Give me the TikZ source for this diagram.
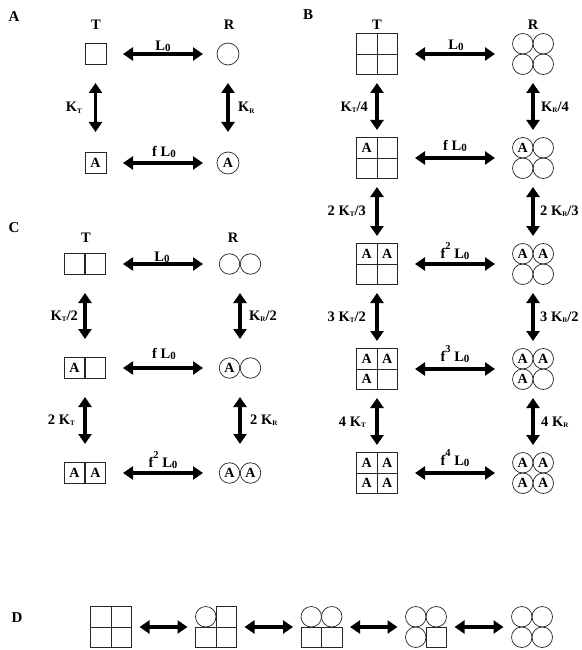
\documentclass[tikz,border=0pt]{standalone}
\usepackage{fontspec}
\setmainfont{Liberation Serif}
\usetikzlibrary{arrows.meta}
\newcommand\lsub[1]{\raisebox{-1pt}{\fontsize{11}{11}\selectfont #1}}
\newcommand\ksub[1]{\raisebox{-1.5pt}{\fontsize{7}{7}\selectfont #1}}
\newcommand\fsup[1]{\raisebox{9pt}{\fontsize{10.5}{10.5}\selectfont #1}}
\newcommand\mkcell[4]{%
  \if#4s\node[cellsq] (#1) at (#2,#3) {};\fi
  \if#4S\node[cellsq] (#1) at (#2,#3) {A};\fi
  \if#4c\node[cellci] (#1) at (#2,#3) {};\fi
  \if#4C\node[cellci] (#1) at (#2,#3) {A};\fi}
\newcommand\fourgrp[7]{%
  \node[grp] (#1) at (#2,#3) {};
  \mkcell{#1a}{#2-10.25}{#3-10.25}{#4}
  \mkcell{#1b}{#2+10.25}{#3-10.25}{#5}
  \mkcell{#1c}{#2-10.25}{#3+10.25}{#6}
  \mkcell{#1d}{#2+10.25}{#3+10.25}{#7}}
\newcommand\twogrp[5]{%
  \node[grp, minimum height=21pt] (#1) at (#2,#3) {};
  \mkcell{#1a}{#2-10.5}{#3}{#4}
  \mkcell{#1b}{#2+10.5}{#3}{#5}}
\tikzset{
  lab/.style={font=\fontsize{14.5}{16}\selectfont\bfseries, inner sep=0pt},
  panel/.style={font=\fontsize{15}{17}\selectfont\bfseries, inner sep=0pt},
  cellsq/.style={draw=black!85, line width=0.7pt, minimum size=20.5pt, inner sep=0pt,
    font=\fontsize{14}{15}\selectfont\bfseries},
  cellci/.style={circle, draw=black!85, line width=0.7pt, minimum size=20.5pt, inner sep=0pt,
    font=\fontsize{14}{15}\selectfont\bfseries},
  grp/.style={minimum size=41pt, inner sep=0pt},
  dbl/.style={line width=3.1pt, {Triangle[length=10pt,width=13pt]}-{Triangle[length=10pt,width=13pt]}},
}
\begin{document}
\begin{tikzpicture}[x=1pt,y=-1pt]
\useasboundingbox (0,0) rectangle (581,650);
% ---------------- Panel A
\node[panel] (pA) at (14,17) {A};
\node[lab] (aTl) at (96,25) {T};
\node[lab] (aRl) at (229,25) {R};
\node[cellsq, minimum size=21pt] (aT0) at (95.5,54) {};
\node[cellci, minimum size=22pt] (aR0) at (228,54) {};
\node[cellsq, minimum size=21pt] (aT1) at (95.5,163) {A};
\node[cellci, minimum size=22pt] (aR1) at (228,163) {A};
\draw[dbl, shorten <=27.5pt, shorten >=25pt] (aT0.center) -- (aR0.center);
\draw[dbl, shorten <=27.5pt, shorten >=25pt] (aT1.center) -- (aR1.center);
\draw[dbl, shorten <=29pt, shorten >=31pt] (aT0.center) -- (aT1.center);
\draw[dbl, shorten <=29pt, shorten >=31pt] (aR0.center) -- (aR1.center);
\node[lab, anchor=base] (aL0) at (163,51) {L\lsub{0}};
\node[lab, anchor=base] (aL1) at (164,157) {f L\lsub{0}};
\node[lab, anchor=east] (aKT) at (82,108) {K\ksub{T}};
\node[lab, anchor=west] (aKR) at (238,108) {K\ksub{R}};
% ---------------- Panel B
\node[panel] (pB) at (308,15) {B};
\node[lab] (bTl) at (377,25) {T};
\node[lab] (bRl) at (533,25) {R};
\fourgrp{bT0}{377}{54}{s}{s}{s}{s}
\fourgrp{bR0}{533}{54}{c}{c}{c}{c}
\fourgrp{bT1}{377}{158}{S}{s}{s}{s}
\fourgrp{bR1}{533}{158}{C}{c}{c}{c}
\fourgrp{bT2}{377}{264}{S}{S}{s}{s}
\fourgrp{bR2}{533}{264}{C}{C}{c}{c}
\fourgrp{bT3}{377}{369}{S}{S}{S}{s}
\fourgrp{bR3}{533}{369}{C}{C}{C}{c}
\fourgrp{bT4}{377}{473}{S}{S}{S}{S}
\fourgrp{bR4}{533}{473}{C}{C}{C}{C}
\foreach \i in {0,...,4}{
  \draw[dbl, shorten <=38pt, shorten >=38pt] (bT\i.center) -- (bR\i.center);
}
\foreach \i/\j in {0/1,1/2,2/3,3/4}{
  \draw[dbl, shorten <=29pt, shorten >=28pt] (bT\i.center) -- (bT\j.center);
  \draw[dbl, shorten <=29pt, shorten >=28pt] (bR\i.center) -- (bR\j.center);
}
\node[lab, anchor=base] (bL0) at (456,50) {L\lsub{0}};
\node[lab, anchor=base] (bL1) at (455,150) {f L\lsub{0}};
\node[lab, anchor=base] (bL2) at (455,258) {f\fsup{2} L\lsub{0}};
\node[lab, anchor=base] (bL3) at (455,361) {f\fsup{3} L\lsub{0}};
\node[lab, anchor=base] (bL4) at (455,465) {f\fsup{4} L\lsub{0}};
\node[lab, anchor=east] (bKT1) at (368,107) {K\ksub{T}/4};
\node[lab, anchor=east] (bKT2) at (366,211) {2 K\ksub{T}/3};
\node[lab, anchor=east] (bKT3) at (366,317) {3 K\ksub{T}/2};
\node[lab, anchor=east] (bKT4) at (366,422) {4 K\ksub{T}};
\node[lab, anchor=west] (bKR1) at (541,107) {K\ksub{R}/4};
\node[lab, anchor=west] (bKR2) at (540,211) {2 K\ksub{R}/3};
\node[lab, anchor=west] (bKR3) at (540,317) {3 K\ksub{R}/2};
\node[lab, anchor=west] (bKR4) at (541,422) {4 K\ksub{R}};
% ---------------- Panel C
\node[panel] (pC) at (14,228) {C};
\node[lab] (cTl) at (86,238) {T};
\node[lab] (cRl) at (233,238) {R};
\twogrp{cT0}{85}{264}{s}{s}
\twogrp{cR0}{240}{264}{c}{c}
\twogrp{cT1}{85}{368}{S}{s}
\twogrp{cR1}{240}{368}{C}{c}
\twogrp{cT2}{85}{473}{S}{S}
\twogrp{cR2}{240}{473}{C}{C}
\foreach \i in {0,1,2}{
  \draw[dbl, shorten <=38pt, shorten >=37pt] (cT\i.center) -- (cR\i.center);
}
\foreach \i/\j in {0/1,1/2}{
  \draw[dbl, shorten <=29pt, shorten >=29pt] (cT\i.center) -- (cT\j.center);
  \draw[dbl, shorten <=29pt, shorten >=29pt] (cR\i.center) -- (cR\j.center);
}
\node[lab, anchor=base] (cL0) at (162,261) {L\lsub{0}};
\node[lab, anchor=base] (cL1) at (164,358) {f L\lsub{0}};
\node[lab, anchor=base] (cL2) at (163,467) {f\fsup{2} L\lsub{0}};
\node[lab, anchor=east] (cKT1) at (78,316) {K\ksub{T}/2};
\node[lab, anchor=west] (cKR1) at (249,316) {K\ksub{R}/2};
\node[lab, anchor=east] (cKT2) at (75,420) {2 K\ksub{T}};
\node[lab, anchor=west] (cKR2) at (250,420) {2 K\ksub{R}};
% ---------------- Panel D
\node[panel] (pD) at (17,618) {D};
\fourgrp{d0}{111}{627}{s}{s}{s}{s}
\fourgrp{d1}{216}{627}{c}{s}{s}{s}
\fourgrp{d2}{321.5}{627}{c}{c}{s}{s}
\fourgrp{d3}{426}{627}{c}{c}{c}{s}
\fourgrp{d4}{532}{627}{c}{c}{c}{c}
\foreach \i/\j in {0/1,1/2,2/3,3/4}{
  \draw[dbl, shorten <=28.5pt, shorten >=28.5pt] (d\i.center) -- (d\j.center);
}
\end{tikzpicture}
\end{document}
